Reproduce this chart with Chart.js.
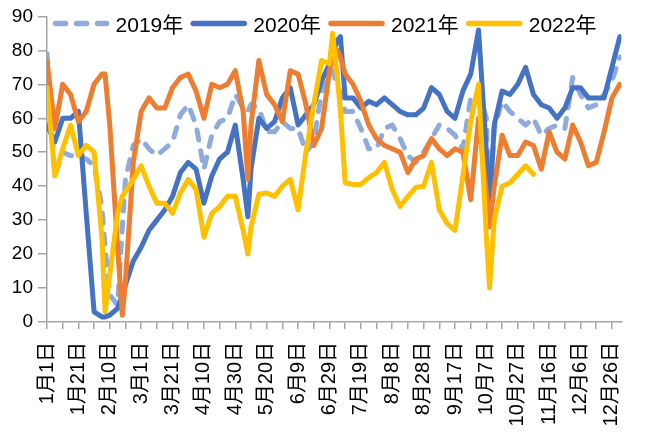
<!DOCTYPE html>
<html>
<head>
<meta charset="utf-8">
<script src="https://cdn.jsdelivr.net/npm/chart.js@4.4.0/dist/chart.umd.min.js"></script>
<style>
html,body{margin:0;padding:0;background:#fff;}
#wrap{width:649px;height:436px;position:relative;}
</style>
</head>
<body>
<div id="wrap"><canvas id="c" width="649" height="436"></canvas></div>
<script>
// Day of year for each sample
const days = [
  1,6,11,16,21,26,31,36,38,41,
  46,49,51,56,61,66,71,76,81,86,
  91,96,101,106,111,116,121,126,129,131,
  136,141,146,151,156,161,166,171,176,181,
  183,186,188,191,196,201,206,211,216,221,
  226,231,236,241,246,251,256,261,266,271,
  276,281,283,286,291,296,301,306,311,316,
  321,326,331,336,341,346,351,356,361,366
];
const seriesNames = ['2019年','2020年','2021年','2022年'];
const v2019 = [
  79,43,50,49,49,48,46,34,22,8,
  5,28,42,52,54,51,49,51,53,61,
  64,58,45,55,59,60,67,63,62,64,
  63,56,56,59,57,57,50,53,68,72,
  74,70,67,62,62,57,51,51,57,58,
  54,49,47,50,54,58,57,55,51,66,
  68,60,34,57,65,62,60,58,60,55,
  57,58,57,72,67,63,64,67,71,78
];
const v2020 = [
  58,53,60,60,62,32,3,1.5,1.5,2,
  4,8,11,18,22,27,30,33,37,44,
  47,45,35,43,48,50,58,42,31,45,
  60,57,59,66,69,58,61,64,71,76,
  79,83,84,66,66,63,65,64,66,64,
  62,61,61,63,69,67,62,60,68,73,
  86,50,33,58,68,67,70,75,67,64,
  63,60,63,69,69,66,66,66,75,84
];
const v2021 = [
  77,57,70,67,59,62,70,73,73,58,
  22,2,12,47,62,66,63,63,69,72,
  73,68,60,70,69,70,74,62,42,58,
  77,67,64,59,74,73,64,52,57,74,
  78,80,78,73,70,65,58,54,52,51,
  50,44,48,49,54,51,49,51,50,36,
  60,38,28,40,55,49,49,53,52,45,
  56,50,48,58,53,46,47,56,66,70
];
const v2022 = [
  69,43,51,58,49,52,50,25,3,14,
  32,37,38.5,42,46,40,35,35,32,38,
  42,39,25,32,34,37,37,27,20,28,
  37.6,38,37,40,42,33,50,64,77,76,
  85,72,62,41,40.5,40.5,42.5,44,47,39,
  34,37,39.6,40,47,33,29,27,43,59,
  70,25,10,30,40,41,43.5,46,43.5,null,
  null,null,null,null,null,null,null,null,null,null
];
const tickDays = [1,11,21,31,41,51,61,71,81,91,101,111,121,131,141,151,161,171,181,191,201,211,221,231,241,251,261,271,281,291,301,311,321,331,341,351,361];
const xTickLabels = ['1月1日','1月21日','2月10日','3月1日','3月21日','4月10日','4月30日','5月20日','6月9日','6月29日','7月19日','8月8日','8月28日','9月17日','10月7日','10月27日','11月16日','12月6日','12月26日'];

const FONT = '"Liberation Sans", "Noto Sans CJK SC", sans-serif';
const colors = ['#8FAADC','#4472C4','#ED7D31','#FFC000'];
const allValues = [v2019, v2020, v2021, v2022];

const datasets = allValues.map((vals, k) => ({
  label: seriesNames[k],
  data: days.map((d, i) => ({x: d, y: vals[i]})),
  borderColor: colors[k],
  backgroundColor: colors[k],
  borderWidth: 5,
  borderDash: k === 0 ? [10, 11] : [],
  borderCapStyle: 'round',
  borderJoinStyle: 'round',
  pointRadius: 0,
  tension: 0,
  fill: false,
  order: 4 - k
}));

const legendPlugin = {
  id: 'customLegend',
  afterDatasetsDraw(chart) {
    const ctx = chart.ctx;
    ctx.save();
    ctx.font = '21px ' + FONT;
    const lineW = 57, gap1 = 6, gap2 = 7;
    const items = chart.data.datasets.map(ds => ({ds, w: ctx.measureText(ds.label).width}));
    const total = items.reduce((s, it) => s + lineW + gap1 + it.w, 0) + gap2 * (items.length - 1);
    let x = 324.5 - total / 2;
    const y = 23.5;
    items.forEach(it => {
      ctx.strokeStyle = it.ds.borderColor;
      ctx.lineWidth = 5.5;
      ctx.lineCap = 'round';
      ctx.setLineDash(it.ds.borderDash || []);
      ctx.beginPath();
      ctx.moveTo(x + 3, y);
      ctx.lineTo(x + lineW - 3, y);
      ctx.stroke();
      ctx.setLineDash([]);
      ctx.fillStyle = '#000';
      ctx.textBaseline = 'alphabetic';
      ctx.textAlign = 'left';
      ctx.fillText(it.ds.label, x + lineW + gap1, 32.3);
      x += lineW + gap1 + it.w + gap2;
    });
    ctx.restore();
  }
};

new Chart(document.getElementById('c'), {
  type: 'line',
  data: { datasets },
  options: {
    responsive: false,
    animation: false,
    devicePixelRatio: 1,
    layout: { padding: { top: 15, right: 4, left: 0, bottom: 0 } },
    plugins: { legend: { display: false }, tooltip: { enabled: false } },
    scales: {
      x: {
        type: 'linear',
        min: 1,
        max: 367,
        afterBuildTicks: s => { s.ticks = tickDays.map(v => ({value: v})); },
        afterFit: s => { s.height = 114; },
        grid: { display: true, drawOnChartArea: false, drawTicks: true, tickLength: 7, color: '#A6A6A6', lineWidth: 1.5 },
        border: { display: true, color: '#A6A6A6', width: 1.5 },
        ticks: {
          autoSkip: false, maxRotation: 90, minRotation: 90, padding: 13, color: '#000',
          font: { size: 20, family: FONT },
          callback: (val, idx) => (idx % 2 === 0 ? xTickLabels[idx / 2] : '')
        }
      },
      y: {
        min: 0,
        max: 90,
        afterFit: s => { s.width = 47; },
        ticks: { stepSize: 10, padding: 5, color: '#000', font: { size: 19, family: FONT } },
        grid: { drawOnChartArea: false, drawTicks: true, tickLength: 9, color: '#A6A6A6', lineWidth: 1.5 },
        border: { display: true, color: '#A6A6A6', width: 1.5 }
      }
    }
  },
  plugins: [legendPlugin]
});
</script>
</body>
</html>
